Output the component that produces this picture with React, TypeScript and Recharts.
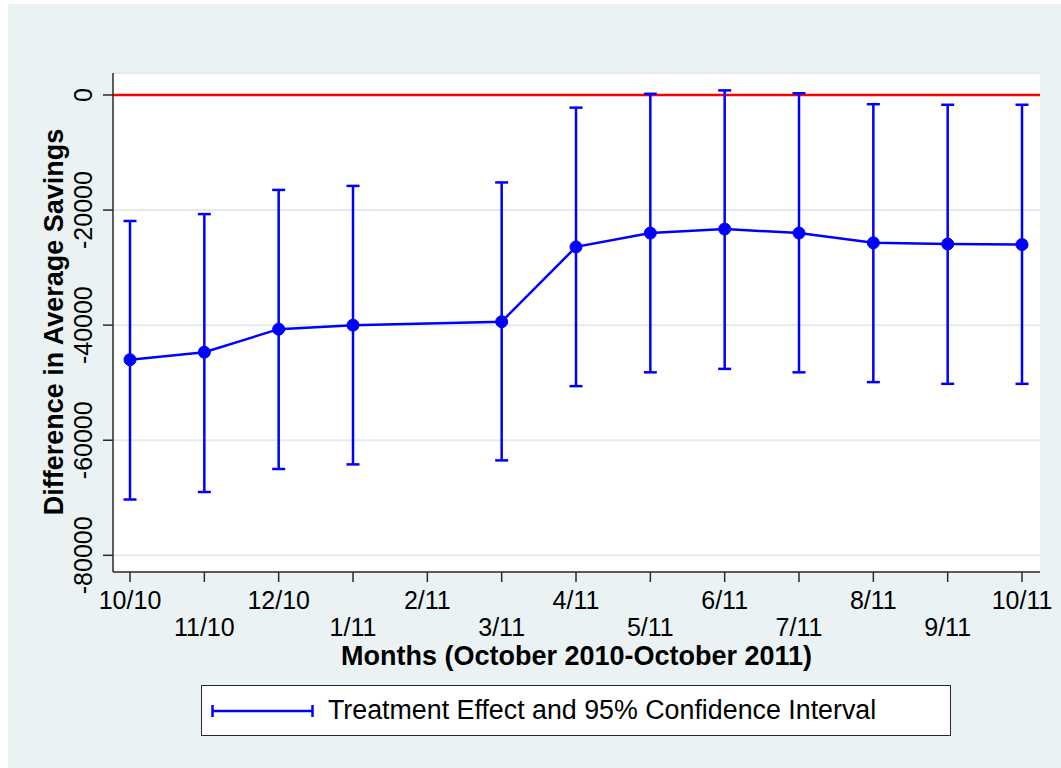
import React from 'react';
import {
  ComposedChart,
  Line,
  ErrorBar,
  XAxis,
  YAxis,
  CartesianGrid,
  ReferenceLine,
  Legend,
} from 'recharts';

const FONT = '"Liberation Sans", Arial, Helvetica, sans-serif';

// Categories (months); 2/11 has no estimate
const monthLabels = ['10/10', '11/10', '12/10', '1/11', '2/11', '3/11', '4/11', '5/11', '6/11', '7/11', '8/11', '9/11', '10/11'];
// Treatment effect (point estimate)
const effect: (number | null)[] = [-46000, -44700, -40700, -40000, null, -39400, -26400, -24000, -23300, -24000, -25700, -25900, -26000];
// 95% CI upper bound
const upper: (number | null)[] = [-21900, -20700, -16500, -15800, null, -15200, -2200, 200, 800, 300, -1600, -1700, -1700];
// 95% CI lower bound
const lower: (number | null)[] = [-70300, -69000, -65000, -64200, null, -63500, -50600, -48200, -47600, -48200, -49900, -50200, -50200];
// Y tick labels
const yTicks = [0, -20000, -40000, -60000, -80000];
const xTicks = monthLabels.map((_, i) => i);

const data = monthLabels
  .map((m, i) => ({
    x: i,
    month: m,
    y: effect[i],
    err: effect[i] === null ? null : [(effect[i] as number) - (lower[i] as number), (upper[i] as number) - (effect[i] as number)],
  }))
  .filter((d) => d.y !== null);

const BLUE = '#0000ff';
const AXIS = '#2a2a2a';

const XTick = (props: any) => {
  const { x, y, payload } = props;
  const i = payload.value as number;
  const dy = i % 2 === 0 ? 27 : 53.5;
  return (
    <text x={x} y={y + dy} textAnchor="middle" fontSize={25} fill="#000" fontFamily={FONT}>
      {monthLabels[i]}
    </text>
  );
};

const YTick = (props: any) => {
  const { x, y, payload } = props;
  const bx = x - 11;
  return (
    <text
      x={bx}
      y={y}
      transform={`rotate(-90 ${bx} ${y})`}
      textAnchor="middle"
      fontSize={25}
      fill="#000"
      fontFamily={FONT}
    >
      {String(payload.value)}
    </text>
  );
};

const XTitle = (props: any) => {
  const vb = props.viewBox || {};
  const cx = vb.x + vb.width / 2;
  return (
    <text x={cx} y={665} textAnchor="middle" fontSize={27} fontWeight="bold" fill="#000" fontFamily={FONT}>
      Months (October 2010-October 2011)
    </text>
  );
};

const YTitle = (props: any) => {
  const cy = 322;
  const bx = 63;
  return (
    <text
      x={bx}
      y={cy}
      transform={`rotate(-90 ${bx} ${cy})`}
      textAnchor="middle"
      fontSize={27}
      fontWeight="bold"
      fill="#000"
      fontFamily={FONT}
    >
      Difference in Average Savings
    </text>
  );
};

const LegendBox = () => (
  <div
    style={{
      boxSizing: 'border-box',
      width: 750,
      height: 51,
      border: `1.5px solid ${AXIS}`,
      background: '#fff',
      display: 'flex',
      alignItems: 'center',
      fontFamily: FONT,
      fontSize: 26.8,
      color: '#000',
    }}
  >
    <svg width={120} height={30} style={{ marginLeft: 9, flex: 'none' }}>
      <line x1={1} y1={15} x2={102} y2={15} stroke={BLUE} strokeWidth={2.5} />
      <line x1={1.5} y1={9} x2={1.5} y2={21} stroke={BLUE} strokeWidth={2.5} />
      <line x1={101.5} y1={9} x2={101.5} y2={21} stroke={BLUE} strokeWidth={2.5} />
    </svg>
    <span style={{ marginLeft: -3, whiteSpace: 'nowrap' }}>Treatment Effect and 95% Confidence Interval</span>
  </div>
);

export default function App() {
  return (
    <div style={{ position: 'absolute', left: 0, top: 0, width: 1061, height: 768 }}>
      <div
        style={{
          position: 'absolute',
          left: 8,
          top: 4,
          width: 1053,
          height: 764,
          background: '#eaf2f3',
        }}
      />
      <div style={{ position: 'absolute', left: 0, top: 0 }}>
        <ComposedChart
          width={1061}
          height={768}
          data={data}
          margin={{ top: 73, right: 21, left: 13, bottom: 96 }}
        >
          <CartesianGrid horizontal vertical={false} fill="#ffffff" stroke="#e3eced" strokeWidth={2} />
          <XAxis
            dataKey="x"
            type="number"
            domain={[-0.2287, 12.242]}
            allowDataOverflow
            ticks={xTicks}
            interval={0}
            height={100}
            tickSize={10}
            tickMargin={0}
            tick={<XTick />}
            axisLine={{ stroke: AXIS, strokeWidth: 1.5 }}
            tickLine={{ stroke: AXIS, strokeWidth: 1.5 }}
            label={<XTitle />}
          />
          <YAxis
            type="number"
            domain={[-82900, 3820]}
            allowDataOverflow
            ticks={yTicks}
            interval={0}
            width={100}
            tickSize={10}
            tickMargin={0}
            tick={<YTick />}
            axisLine={{ stroke: AXIS, strokeWidth: 1.5 }}
            tickLine={{ stroke: AXIS, strokeWidth: 1.5 }}
            label={<YTitle />}
          />
          <ReferenceLine y={0} stroke="#ff0000" strokeWidth={2.5} />
          <Line
            dataKey="y"
            stroke={BLUE}
            strokeWidth={2.5}
            dot={{ r: 6, fill: BLUE, stroke: BLUE, strokeWidth: 1 }}
            activeDot={false}
            isAnimationActive={false}
            connectNulls
          >
            <ErrorBar dataKey="err" width={6.5} stroke={BLUE} strokeWidth={2.5} isAnimationActive={false} />
          </Line>
          <Legend
            verticalAlign="middle"
            align="center"
            layout="horizontal"
            wrapperStyle={{ left: 201, top: 685, width: 750, height: 51 }}
            content={<LegendBox />}
          />
        </ComposedChart>
      </div>
    </div>
  );
}
